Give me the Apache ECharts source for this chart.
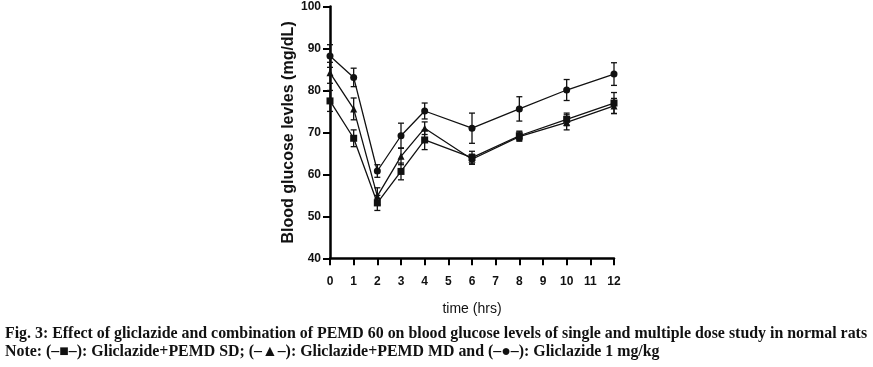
<!DOCTYPE html>
<html><head><meta charset="utf-8">
<script src="https://cdn.jsdelivr.net/npm/echarts@6/dist/echarts.min.js"></script>
<style>html,body{margin:0;padding:0;background:#fff}#c{width:873px;height:367px}</style>
</head><body><div id="c"></div>
<script>
var times = [0, 1, 2, 3, 4, 6, 8, 10, 12];
var sdValues = [77.5, 68.6, 53.2, 60.7, 68.2, 64.0, 69.2, 73.1, 77.0];
var sdErrors = [2.5, 2.0, 1.8, 2.0, 2.3, 1.5, 1.1, 1.5, 2.5];
var mdValues = [84.2, 75.6, 54.8, 64.3, 71.0, 63.6, 69.0, 72.4, 76.3];
var mdErrors = [2.5, 2.6, 2.0, 2.0, 1.5, 1.2, 1.1, 1.8, 1.8];
var gliValues = [88.2, 83.1, 60.8, 69.2, 75.1, 71.0, 75.6, 80.1, 83.9];
var gliErrors = [2.7, 2.2, 1.5, 3.0, 1.9, 3.6, 2.9, 2.5, 2.7];
var yTicks = [40, 50, 60, 70, 80, 90, 100];
var xTicks = [0,1,2,3,4,5,6,7,8,9,10,11,12];

function pts(vals){ return times.map(function(t,i){ return [t, vals[i]]; }); }
function errs(vals, e){ return times.map(function(t,i){ return [t, vals[i]-e[i], vals[i]+e[i]]; }); }

function errSeries(vals, e){
  return {
    type: 'custom',
    data: errs(vals, e),
    z: 1,
    renderItem: function(params, api){
      var x = api.value(0);
      var lo = api.coord([x, api.value(1)]);
      var hi = api.coord([x, api.value(2)]);
      var hw = 3;
      var st = {stroke: '#111', lineWidth: 1.3};
      return {type: 'group', children: [
        {type: 'line', shape: {x1: lo[0], y1: lo[1], x2: hi[0], y2: hi[1]}, style: st},
        {type: 'line', shape: {x1: lo[0]-hw, y1: lo[1], x2: lo[0]+hw, y2: lo[1]}, style: st},
        {type: 'line', shape: {x1: hi[0]-hw, y1: hi[1], x2: hi[0]+hw, y2: hi[1]}, style: st}
      ]};
    }
  };
}
function lineSeries(name, vals, symbol, size){
  return {
    name: name, type: 'line', data: pts(vals), symbol: symbol, symbolSize: size,
    lineStyle: {color: '#111', width: 1.3}, itemStyle: {color: '#111'}, z: 3,
    animation: false
  };
}

var chart = echarts.init(document.getElementById('c'), null, {renderer: 'canvas'});
var sans = '"Liberation Sans Narrow", "Liberation Sans", Arial, sans-serif';
chart.setOption({
  animation: false,
  backgroundColor: '#fff',
  grid: {left: 330, right: 259, top: 6.5, bottom: 108.7, containLabel: false},
  xAxis: {
    type: 'value', min: 0, max: 12, interval: 1,
    name: 'time (hrs)', nameLocation: 'middle', nameGap: 44,
    nameTextStyle: {fontFamily: sans, fontSize: 14, color: '#111'},
    axisLine: {show: true, onZero: false, lineStyle: {color: '#000', width: 2.5}},
    axisTick: {show: true, length: 7, lineStyle: {color: '#000', width: 2}},
    axisLabel: {fontFamily: sans, fontWeight: 'bold', fontSize: 12, color: '#111', margin: 17,
      formatter: function(v){ return xTicks.indexOf(v) >= 0 ? String(v) : ''; }},
    splitLine: {show: false}
  },
  yAxis: {
    type: 'value', min: 40, max: 100, interval: 10,
    name: 'Blood glucose levles (mg/dL)', nameLocation: 'middle', nameGap: 31,
    nameTextStyle: {fontFamily: '"Liberation Sans", Arial, sans-serif', fontWeight: 'bold', fontSize: 16, color: '#111'},
    axisLine: {show: true, lineStyle: {color: '#000', width: 2.5}},
    axisTick: {show: true, length: 7, lineStyle: {color: '#000', width: 2}},
    axisLabel: {fontFamily: sans, fontWeight: 'bold', fontSize: 12, color: '#111', margin: 9,
      formatter: function(v){ return yTicks.indexOf(v) >= 0 ? String(v) : ''; }},
    splitLine: {show: false}
  },
  series: [
    errSeries(sdValues, sdErrors),
    errSeries(mdValues, mdErrors),
    errSeries(gliValues, gliErrors),
    lineSeries('Gliclazide+PEMD SD', sdValues, 'rect', 7),
    lineSeries('Gliclazide+PEMD MD', mdValues, 'triangle', 7),
    lineSeries('Gliclazide 1 mg/kg', gliValues, 'circle', 7)
  ],
  graphic: [
    {type: 'text', left: 5, top: 326, style: {
      text: 'Fig. 3: Effect of gliclazide and combination of PEMD 60 on blood glucose levels of single and multiple dose study in normal rats',
      font: 'bold 15.9px "Liberation Serif", "Times New Roman", serif', fill: '#111'}},
    {type: 'text', left: 5, top: 344, style: {
      text: 'Note: (\u2013\u25A0\u2013): Gliclazide+PEMD SD; (\u2013\u25B2\u2013): Gliclazide+PEMD MD and (\u2013\u25CF\u2013): Gliclazide 1 mg/kg',
      font: 'bold 15.9px "Liberation Serif", "Times New Roman", serif', fill: '#111'}}
  ]
});
</script></body></html>
